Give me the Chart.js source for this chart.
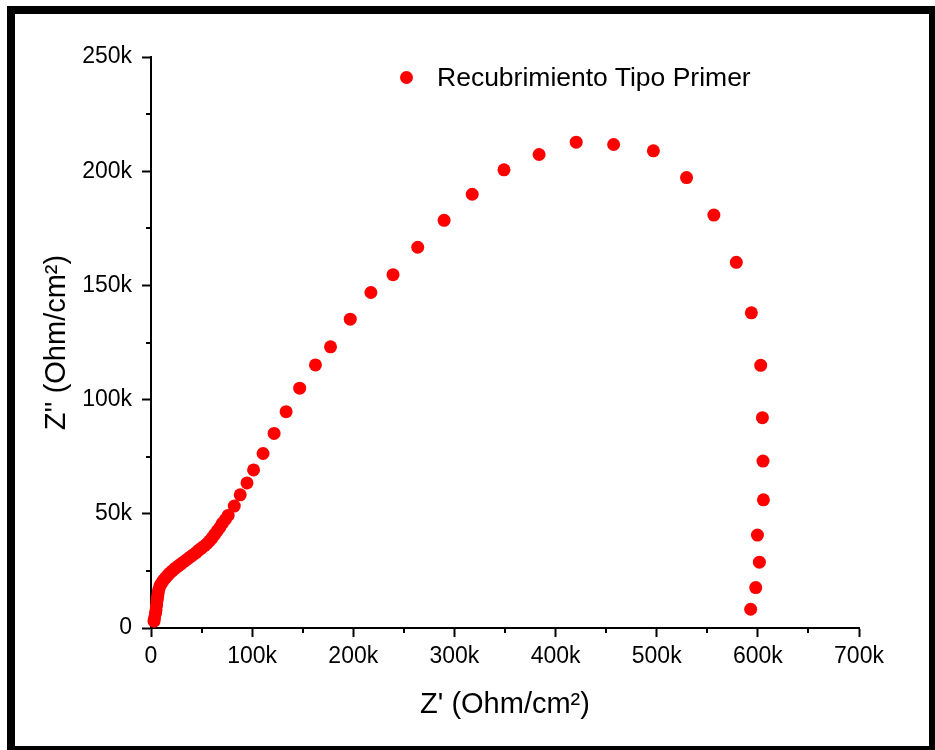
<!DOCTYPE html>
<html>
<head>
<meta charset="utf-8">
<script src="https://cdn.jsdelivr.net/npm/chart.js@4"></script>
<style>
  html, body { margin: 0; padding: 0; background: #fff; overflow: hidden; }
  #wrap { position: relative; width: 935px; height: 750px; }
  #frame { position: absolute; left: 7px; top: 6px; width: 930px; height: 748px;
           box-sizing: border-box; border: 8px solid #000; pointer-events: none; }
  #legend { position: absolute; left: 400px; top: 62px; height: 30px; display: flex; align-items: center;
            font-family: "Liberation Sans", Arial, sans-serif; font-size: 26.5px; color: #000; }
  #legend .dot { width: 13px; height: 13px; border-radius: 50%; background: #ff0000; margin-right: 24px; }
</style>
</head>
<body>
<div id="wrap">
  <canvas id="myChart" width="935" height="750"></canvas>
  <div id="legend"><span class="dot"></span><span id="legend-text"></span></div>
  <div id="frame"></div>
</div>
<script>
// series label and axis titles
const seriesLabel = 'Recubrimiento Tipo Primer';
const xTitle = "Z' (Ohm/cm²)";
const yTitle = "Z'' (Ohm/cm²)";

const zReal = [
    3000, 3500, 4500, 5000, 5500, 6000, 6500, 7000, 7500, 8500,
    9500, 11000, 12500, 14500, 16500, 18500, 21000, 23500, 26500, 29500,
    32500, 35500, 38500, 41500, 44500, 47000, 50000, 53000, 55500, 58000,
    60500, 63000, 65500, 68000, 70500, 73500, 76300, 82300,
    88200, 94900, 101400, 110800, 121700, 133600, 147000, 162600, 177500,
    197000, 217400, 239300, 263700, 289800, 317600, 349000, 383700, 420400, 457400,
    496700, 529500, 556500, 578700, 593600, 602800, 604500, 605100, 605500, 599600,
    601500, 597900, 592900
];

// imaginary part of impedance (ohm/cm2)
const zImag = [
    3000, 4500, 6500, 8000, 10000, 12000, 13500, 15000, 16500, 18000,
    19000, 20000, 21000, 22000, 23000, 24000, 25000, 26000, 27000, 28000,
    29000, 30000, 31000, 32000, 33000, 34000, 35000, 36000, 37000, 38200,
    39500, 41000, 42500, 44000, 45800, 47500, 49300, 53400,
    58300, 63500, 69200, 76400, 85200, 94700, 105000, 115200, 123100,
    135200, 146900, 154700, 166700, 178500, 189900, 200600, 207300, 212700, 211700,
    208900, 197200, 180800, 160100, 138000, 115000, 92100, 73100, 56100, 40700,
    28800, 17700, 8200
];

// axis ranges
const xMax = 700000;
const xStep = 100000;
const yMax = 250000;
const yStep = 50000;

const points = zReal.map(function(x, i) { return { x: x, y: zImag[i] }; });

document.getElementById('legend-text').textContent = seriesLabel;

// formats 100000 as 100k
function kLabel(v) {
    return v === 0 ? '0' : (v / 1000) + 'k';
}

// draws the short minor ticks between the labelled ones
const minorTicks = {
    id: 'minorTicks',
    afterDraw: function(chart) {
        const c = chart.ctx;
        const xs = chart.scales.x;
        const ys = chart.scales.y;
        const area = chart.chartArea;
        c.save();
        c.strokeStyle = '#000';
        c.lineWidth = 2;
        c.beginPath();
        for (let v = xStep / 2; v < xMax; v += xStep) {
            const px = Math.round(xs.getPixelForValue(v));
            c.moveTo(px, area.bottom);
            c.lineTo(px, area.bottom + 5);
        }
        for (let v = yStep / 2; v < yMax; v += yStep) {
            const py = Math.round(ys.getPixelForValue(v));
            c.moveTo(area.left, py);
            c.lineTo(area.left - 5, py);
        }
        c.stroke();
        c.restore();
    }
};

const ctx = document.getElementById('myChart').getContext('2d');
Chart.defaults.font.family = '"Liberation Sans", Arial, sans-serif';
Chart.defaults.color = '#000';

new Chart(ctx, {
    type: 'scatter',
    data: {
        datasets: [{
            label: seriesLabel,
            data: points,
            backgroundColor: '#ff0000',
            borderWidth: 0,
            pointRadius: 6.5,
            pointHoverRadius: 6.5,
            clip: false
        }]
    },
    options: {
        responsive: false,
        animation: false,
        events: [],
        layout: { padding: { top: 57, right: 76, left: 0, bottom: 0 } },
        plugins: {
            legend: { display: false },
            tooltip: { enabled: false }
        },
        scales: {
            x: {
                type: 'linear',
                min: 0,
                max: xMax,
                afterFit: function(scale) { scale.height = 122; },
                border: { display: true, color: '#000', width: 2 },
                grid: { drawOnChartArea: false, drawTicks: true, tickLength: 9, tickWidth: 2, tickColor: '#000' },
                ticks: { stepSize: xStep, padding: 6, font: { size: 23 }, callback: kLabel, maxRotation: 0 },
                title: { display: true, text: xTitle, font: { size: 29 }, padding: { top: 0, bottom: 28 } }
            },
            y: {
                type: 'linear',
                min: 0,
                max: yMax,
                afterFit: function(scale) { scale.width = 151; },
                border: { display: true, color: '#000', width: 2 },
                grid: { drawOnChartArea: false, drawTicks: true, tickLength: 9, tickWidth: 2, tickColor: '#000' },
                ticks: { stepSize: yStep, padding: 10, font: { size: 23 }, callback: kLabel },
                title: { display: true, text: yTitle, font: { size: 29 }, padding: { top: 40, bottom: 0 } }
            }
        }
    },
    plugins: [minorTicks]
});
</script>
</body>
</html>
